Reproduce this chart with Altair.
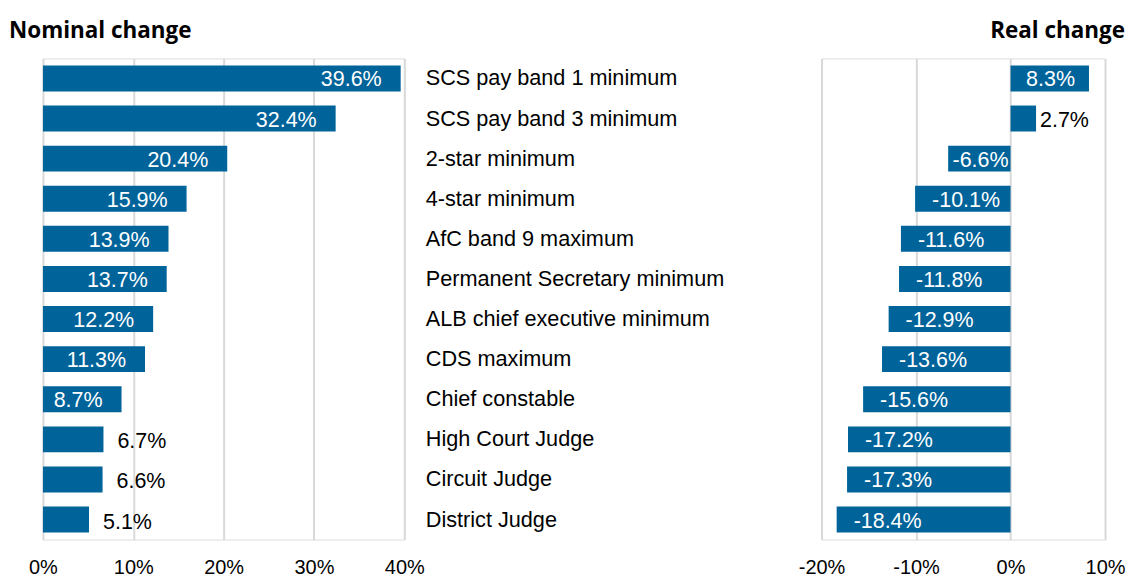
import altair as alt
import pandas as pd

categories = [
    "SCS pay band 1 minimum",
    "SCS pay band 3 minimum",
    "2-star minimum",
    "4-star minimum",
    "AfC band 9 maximum",
    "Permanent Secretary minimum",
    "ALB chief executive minimum",
    "CDS maximum",
    "Chief constable",
    "High Court Judge",
    "Circuit Judge",
    "District Judge",
]
nominal_pct = [39.6, 32.4, 20.4, 15.9, 13.9, 13.7, 12.2, 11.3, 8.7, 6.7, 6.6, 5.1]
real_pct = [8.3, 2.7, -6.6, -10.1, -11.6, -11.8, -12.9, -13.6, -15.6, -17.2, -17.3, -18.4]
nominal_ticks = [0, 0.1, 0.2, 0.3, 0.4]
real_ticks = [-0.2, -0.1, 0, 0.1]

df = pd.DataFrame({
    "cat": categories,
    "nominal": [v / 100 for v in nominal_pct],
    "real": [v / 100 for v in real_pct],
    "nlabel": [f"{v:.1f}%" for v in nominal_pct],
    "rlabel": [f"{v:.1f}%" for v in real_pct],
})

FONT = "Liberation Sans"
TFONT = "Open Sans"
BAR = "#00639a"
GRID = "#d9d9d9"
FS = 21.5      # value labels
CFS = 21.7     # category labels
AFS = 20       # axis tick labels

yscale = alt.Scale(paddingInner=0.353, paddingOuter=0.175)


def xaxis(vals):
    return alt.Axis(values=vals, labelExpr="round(datum.value * 100) + '%'", grid=True,
                    gridColor=GRID, gridWidth=2, domain=False, ticks=False,
                    labelFontSize=AFS, labelFont=FONT, labelColor="black",
                    labelFlush=False, labelPadding=18, title=None)


# ---------- left panel ----------
lbase = alt.Chart(df).encode(
    y=alt.Y("cat:N", sort=categories, scale=yscale,
            axis=alt.Axis(orient="right", domain=False, ticks=False, labelAlign="left",
                          labelPadding=21, labelFontSize=CFS, labelFont=FONT,
                          labelColor="black", labelLimit=600, title=None, grid=False)),
    x=alt.X("nominal:Q", scale=alt.Scale(domain=[0, 0.4], nice=False), axis=xaxis(nominal_ticks)),
)
lbars = lbase.mark_bar(color=BAR)
lin = lbase.transform_filter("datum.nominal >= 0.08").mark_text(
    align="right", dx=-19, dy=2, color="white", fontSize=FS, font=FONT
).encode(text="nlabel:N")
lout = lbase.transform_filter("datum.nominal < 0.08").mark_text(
    align="left", dx=14, dy=3, color="black", fontSize=FS, font=FONT
).encode(text="nlabel:N")

left = alt.layer(lbars, lin, lout).properties(
    width=362, height=482,
    title=alt.TitleParams("Nominal change", anchor="start", frame="group", font=TFONT,
                          fontSize=22.5, fontWeight="bold", color="black", dx=-34,
                          offset=-2, baseline="alphabetic"),
)

# ---------- right panel ----------
rbase = alt.Chart(df).encode(
    y=alt.Y("cat:N", sort=categories, scale=yscale, axis=None),
)
rx = alt.X("real:Q", scale=alt.Scale(domain=[-0.2, 0.1], nice=False), axis=xaxis(real_ticks))
rbars = rbase.mark_bar(color=BAR).encode(x=rx)
rpos_in = rbase.transform_filter("datum.real >= 0.05").mark_text(
    align="right", dx=-14, dy=2, color="white", fontSize=FS, font=FONT
).encode(x=rx, text="rlabel:N")
rpos_out = rbase.transform_filter("datum.real >= 0 && datum.real < 0.05").mark_text(
    align="left", dx=4, dy=2, color="black", fontSize=FS, font=FONT
).encode(x=rx, text="rlabel:N")
rneg_long = rbase.transform_filter("datum.real <= -0.08").mark_text(
    align="left", dx=17, dy=2, color="white", fontSize=FS, font=FONT
).encode(x=rx, text="rlabel:N")
rneg_short = rbase.transform_filter("datum.real < 0 && datum.real > -0.08").mark_text(
    align="right", dx=-2, dy=2, color="white", fontSize=FS, font=FONT
).encode(x=alt.datum(0), text="rlabel:N")

right = alt.layer(rbars, rpos_in, rpos_out, rneg_long, rneg_short).properties(
    width=284, height=482,
    title=alt.TitleParams("Real change", anchor="end", frame="group", font=TFONT,
                          fontSize=22.5, fontWeight="bold", color="black", dx=20,
                          offset=-2, baseline="alphabetic"),
)

chart = alt.hconcat(left, right, spacing=418, bounds="flush").properties(
    padding={"left": 0, "right": 0, "top": 11, "bottom": 0}
).configure_view(stroke=None).configure(background="white")

chart.save("out.html", embed_options={"renderer": "svg", "actions": False})
